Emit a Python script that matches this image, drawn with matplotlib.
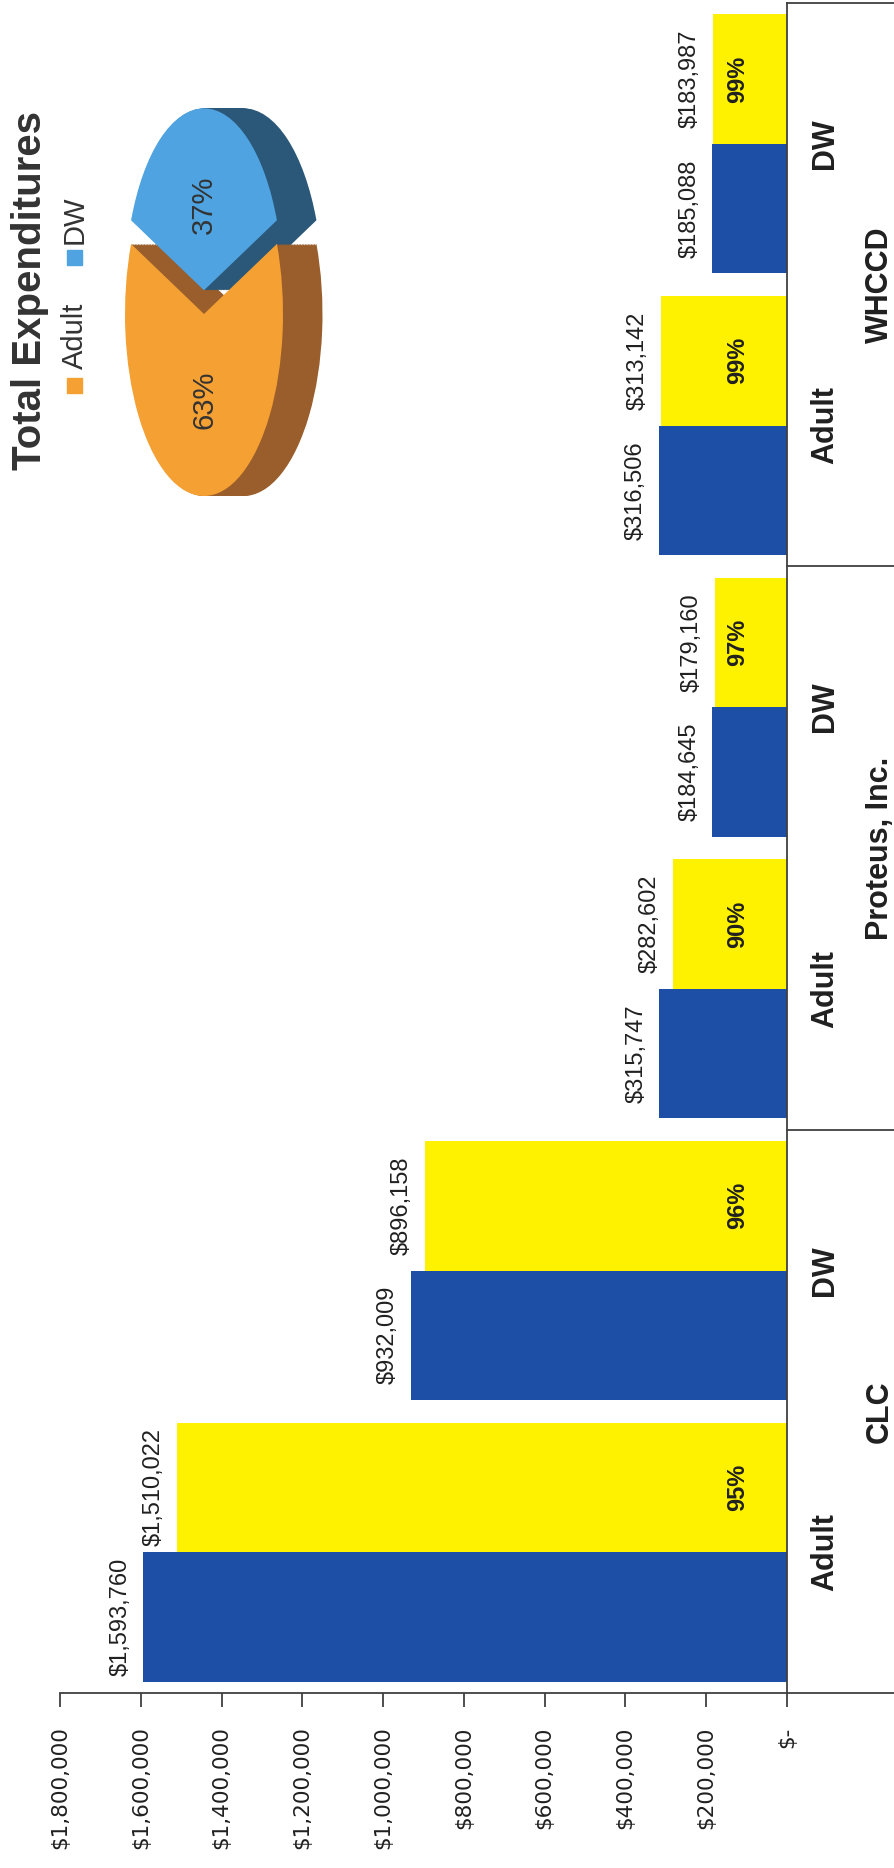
import matplotlib
matplotlib.use("Agg")
import matplotlib.pyplot as plt
import numpy as np
from matplotlib import font_manager
from matplotlib.patches import Rectangle


# provider / program rows, bottom to top
groups = ["CLC", "Proteus, Inc.", "WHCCD"]
programs = ["Adult", "DW"]
allocated = [1593760, 932009, 315747, 184645, 316506, 185088]
expended = [1510022, 896158, 282602, 179160, 313142, 183987]

value_ticks = [0, 200000, 400000, 600000, 800000, 1000000,
               1200000, 1400000, 1600000, 1800000]
tick_labels = ["$-", "$200,000", "$400,000", "$600,000", "$800,000",
               "$1,000,000", "$1,200,000", "$1,400,000", "$1,600,000",
               "$1,800,000"]

pie_labels = ["Adult", "DW"]

BLUE = "#1d4fa6"
YELLOW = "#fff200"
ORANGE = "#f5a032"
ORANGE_SIDE = "#9a5e2c"
SKY = "#4ea3e0"
SKY_SIDE = "#2b5778"
TEXT = "#333333"
LINE = "#404040"

W, H = 895, 1868

installed = {f.name for f in font_manager.fontManager.ttflist}
narrow = "Liberation Sans Narrow" if "Liberation Sans Narrow" in installed else "Liberation Sans"


def px_rect(x0, y0, x1, y1):
    # pixel box (origin top-left) -> figure fraction rect
    return [x0 / W, 1 - y1 / H, (x1 - x0) / W, (y1 - y0) / H]


fig = plt.figure(figsize=(W / 100, H / 100), dpi=100)

# page is turned a quarter: values run right-to-left, rows run bottom-to-top
ax = fig.add_axes(px_rect(60, 3, 787, 1693))
pos = np.arange(len(allocated)) + 0.5
h = 0.46
ax.barh(pos - h / 2, allocated, height=h, color=BLUE, linewidth=0)
ax.barh(pos + h / 2, expended, height=h, color=YELLOW, linewidth=0)
ax.set_xlim(1800000, 0)
ax.set_ylim(0, len(allocated))

for side in ["left", "top"]:
    ax.spines[side].set_visible(False)
for side in ["bottom", "right"]:
    ax.spines[side].set_color(LINE)
    ax.spines[side].set_linewidth(1.3)

ax.set_yticks([])
ax.set_xticks(value_ticks)
ax.set_xticklabels(tick_labels, rotation=90, fontsize=15.5,
                   family="DejaVu Sans", color="#202020")
ax.tick_params(axis="x", direction="out", length=10, width=1.3,
               color=LINE, pad=14)

for p, v in zip(pos - h / 2, allocated):
    ax.annotate(f"${v:,}", xy=(v, p), xytext=(-12, 0), textcoords="offset pixels",
                rotation=90, ha="right", va="center", fontsize=17,
                family=narrow, color="#202020")
for p, v in zip(pos + h / 2, expended):
    ax.annotate(f"${v:,}", xy=(v, p), xytext=(-12, 0), textcoords="offset pixels",
                rotation=90, ha="right", va="center", fontsize=17,
                family=narrow, color="#202020")

# share of allocation spent, inside the yellow bars
for p, s, a in zip(pos + h / 2, expended, allocated):
    ax.annotate(f"{round(100 * s / a)}%", xy=(0, p), xytext=(-38, 0),
                textcoords="offset pixels", rotation=90, ha="right", va="center",
                fontsize=17, fontweight="bold", family="Liberation Sans",
                color="#202020")

# two-level category axis
for i, p in enumerate(pos):
    ax.annotate(programs[i % 2], xy=(0, p), xytext=(38, 0), textcoords="offset pixels",
                rotation=90, ha="center", va="center", fontsize=22,
                fontweight="bold", family="Liberation Sans", color="#202020",
                annotation_clip=False)
for g, name in enumerate(groups):
    ax.annotate(name, xy=(0, 2 * g + 1), xytext=(93, 0), textcoords="offset pixels",
                rotation=90, ha="center", va="center", fontsize=22,
                fontweight="bold", family="Liberation Sans", color="#202020",
                annotation_clip=False)
for y in range(0, len(allocated) + 1, 2):
    ax.plot([1, 1.2], [y, y], transform=ax.get_yaxis_transform(),
            color=LINE, linewidth=1.3, clip_on=False)

# total expenditures pie, squashed and extruded to the right
adult_total = sum(expended[0::2])
dw_total = sum(expended[1::2])
shares = [adult_total, dw_total]
dw_frac = dw_total / (adult_total + dw_total)
start = 90 + 180 * dw_frac

cx, cy, rx, ry = 204, 314, 79, 182
bx0, by0, bx1, by1 = 100, 80, 345, 530
pax = fig.add_axes(px_rect(bx0, by0, bx1, by1))
depth = 0.5
for d in np.linspace(depth, 0.01, 26):
    pax.pie(shares, colors=[ORANGE_SIDE, SKY_SIDE], startangle=start,
            explode=[0, 0.13], center=(d, 0), wedgeprops={"linewidth": 0})
pax.pie(shares, colors=[ORANGE, SKY], startangle=start, explode=[0, 0.13],
        autopct="%1.0f%%", pctdistance=0.47,
        wedgeprops={"linewidth": 0},
        textprops={"rotation": 90, "fontsize": 21, "color": TEXT,
                   "family": "Liberation Sans"})
pax.set_aspect("auto")
pax.set_xlim(-(cx - bx0) / rx, (bx1 - cx) / rx)
pax.set_ylim(-(by1 - cy) / ry, (cy - by0) / ry)
pax.axis("off")

fig.text(30 / W, 1 - 291 / H, "Total Expenditures", rotation=90,
         ha="center", va="center", fontsize=29, fontweight="bold",
         family="Liberation Sans", color=TEXT)

# legend drawn by hand so it can sit sideways
legend_rows = [(pie_labels[0], ORANGE, 378, 336), (pie_labels[1], SKY, 250, 220)]
for label, color, sq_top, text_y in legend_rows:
    fig.patches.append(Rectangle((67 / W, 1 - (sq_top + 15) / H), 15 / W, 15 / H,
                                 transform=fig.transFigure, color=color))
    fig.text(75 / W, 1 - text_y / H, label, rotation=90, ha="center", va="center",
             fontsize=21, family="Liberation Sans", color=TEXT)

fig.savefig("out.png", dpi=100)
